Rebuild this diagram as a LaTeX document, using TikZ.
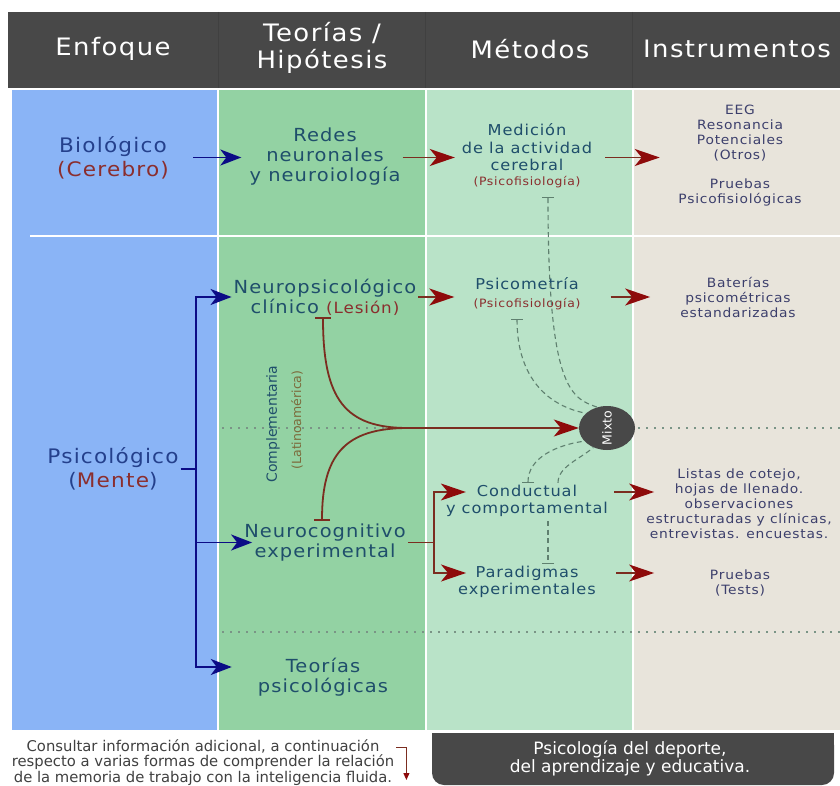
\documentclass[tikz,border=0pt]{standalone}
\usepackage{fontspec}
\setmainfont{DejaVu Sans}
\newfontfamily\widesans[FakeStretch=1.08,LetterSpace=6]{DejaVu Sans}
\usetikzlibrary{positioning}
\usetikzlibrary{arrows.meta}
\usetikzlibrary{calc}
\usetikzlibrary{shapes.geometric}

\definecolor{hdrgray}{HTML}{484848}
\definecolor{colA}{HTML}{8AB4F6}
\definecolor{colB}{HTML}{93D2A3}
\definecolor{colC}{HTML}{B9E3C8}
\definecolor{colD}{HTML}{E8E4DB}
\definecolor{bioblue}{HTML}{24408C}
\definecolor{txtblue}{HTML}{1F4E6B}
\definecolor{slate}{HTML}{3C3F6C}
\definecolor{redtxt}{HTML}{8A2E2E}
\definecolor{latbrown}{HTML}{7C6B3C}
\definecolor{navyarr}{HTML}{0C0C86}
\definecolor{redhead}{HTML}{8E0B0B}
\definecolor{redshaft}{HTML}{7B2D20}
\definecolor{dashgreen}{HTML}{5F806F}
\definecolor{dotgray}{HTML}{7A9486}

\tikzset{
  hdr/.style={text=white, align=center, font=\widesans\fontsize{24}{27}\selectfont},
  enfoque/.style={text=bioblue, align=center, inner sep=2pt, font=\widesans\fontsize{20}{24}\selectfont},
  teoria/.style={text=txtblue, align=center, inner sep=2pt, font=\widesans\fontsize{18}{20}\selectfont},
  metodo/.style={text=txtblue, align=center, inner sep=2pt, font=\widesans\fontsize{15}{17.5}\selectfont},
  subred/.style={text=redtxt, anchor=mid, inner sep=2pt, font=\widesans\fontsize{11.5}{13}\selectfont},
  instr/.style={text=slate, align=center, inner sep=2pt, font=\widesans\fontsize{12.8}{15}\selectfont},
  bline/.style={draw=navyarr, line width=1.8pt},
  barrow/.style={bline, -{Stealth[length=21pt,width=16pt,inset=6pt]}},
  rline/.style={draw=redshaft, line width=1.8pt},
  rarrow/.style={draw=redshaft, line width=1.6pt, -{Stealth[length=25pt,width=17pt,inset=7pt,color=redhead]}},
  mixline/.style={draw=dashgreen, line width=1.1pt, dash pattern=on 5pt off 3.5pt},
  dotline/.style={draw=dotgray, line width=1.5pt, dash pattern=on 1.5pt off 6.5pt},
  notearr/.style={draw=redshaft, line width=0.9pt, -{Triangle[length=7pt,width=6pt,color=redhead]}}
}

\begin{document}
\begin{tikzpicture}[x=1pt,y=-1pt]
  \useasboundingbox (0,0) rectangle (840,786);
  \fill[hdrgray] (8,12) rectangle (840,88);
  \foreach \x in {218,425,632}
    \draw[black!75, line width=1pt] (\x,12) -- (\x,88);
  \fill[colA] (12,90) rectangle (217,730);
  \fill[colB] (219,90) rectangle (425,730);
  \fill[colC] (427,90) rectangle (632,730);
  \fill[colD] (634,90) rectangle (840,730);
  \draw[white, line width=2pt] (30,236) -- (840,236);
  \draw[dotline] (222,428) -- (840,428);
  \draw[dotline] (222,632) -- (840,632);
  \fill[hdrgray, rounded corners=12pt] (432,733) rectangle (834,785);
  \fill[hdrgray] (432,733) rectangle (834,760);

  \node[hdr] (hEnf) at (113,49) {Enfoque};
  \node[hdr] (hTeo) at (322,48) {Teorías /\\Hipótesis};
  \node[hdr] (hMet) at (530,49) {Métodos};
  \node[hdr] (hIns) at (737,49) {Instrumentos};

  \node[enfoque] (bio) at (113,157.5) {Biológico\\\textcolor{redtxt}{(Cerebro)}};
  \node[teoria] (redes) at (325,157) {Redes\\neuronales\\y neuroiología};
  \node[metodo] (medic) at (527,147.5) {Medición\\de la actividad\\cerebral};
  \node[subred] (psfA) at (527,183) {(Psicofisiología)};
  \node[instr] (eeg) at (740,133.5) {EEG\\Resonancia\\Potenciales\\(Otros)};
  \node[instr] (pfis) at (740,192.5) {Pruebas\\Psicofisiológicas};

  \node[enfoque] (psico) at (113,469) {Psicológico\\(\textcolor{redtxt}{Mente})};
  \node[teoria] (neuro) at (325,297) {Neuropsicológico\\clínico {\fontsize{15.5}{20}\selectfont\textcolor{redtxt}{(Lesión)}}};
  \node[metodo, anchor=mid] (psicom) at (527,287) {Psicometría};
  \node[subred] (psfB) at (527,305) {(Psicofisiología)};
  \node[instr] (bater) at (738,297) {Baterías\\psicométricas\\estandarizadas};
  \node[teoria] (ncog) at (325,542.5) {Neurocognitivo\\experimental};
  \node[metodo] (cond) at (527,501) {Conductual\\y comportamental};
  \node[metodo] (parad) at (527,582) {Paradigmas\\experimentales};
  \node[instr] (listas) at (739,504) {Listas de cotejo,\\hojas de llenado.\\observaciones\\estructuradas y clínicas,\\entrevistas. encuestas.};
  \node[instr] (tests) at (740,582.5) {Pruebas\\(Tests)};
  \node[teoria] (teops) at (323,677.5) {Teorías\\psicológicas};

  \node[rotate=90, text=txtblue, font=\fontsize{14}{14}\selectfont] (compl) at (273,424) {Complementaria};
  \node[rotate=90, text=latbrown, font=\fontsize{12.5}{12.5}\selectfont] (latam) at (297,420) {(Latinoamérica)};
  \node[ellipse, fill=hdrgray, minimum width=56pt, minimum height=44pt, inner sep=0pt] (mix) at (607,428) {};
  \node[rotate=90, text=white, font=\fontsize{12.5}{12.5}\selectfont] (mixtxt) at (mix) {Mixto};

  \node[text=black!75, align=center, inner sep=2pt, font=\fontsize{14.8}{15.5}\selectfont] (nota) at (203,762.5)
    {Consultar información adicional, a continuación\\respecto a varias formas de comprender la relación\\de la memoria de trabajo con la inteligencia fluida.};
  \node[text=white, align=center, font=\fontsize{17}{18}\selectfont] (dep) at (630,758) {Psicología del deporte,\\del aprendizaje y educativa.};

  % biologico
  \draw[barrow, shorten <=22pt, shorten >=6pt] (bio.east) -- (bio.east -| redes.west);
  \draw[rarrow, shorten >=5pt] (bio.east -| redes.east) -- (bio.east -| medic.west);
  \draw[rarrow, shorten <=11pt, shorten >=35pt] (bio.east -| medic.east) -- (bio.east -| eeg.west);

  % psicologico
  \draw[bline] (psico.east) -- ++(15,0) coordinate (brk);
  \draw[barrow] (brk) |- (neuro.west);
  \draw[barrow, shorten >=-10pt] (brk) |- (ncog.west);
  \draw[barrow] (brk) |- ($(teops.west)+(-24,-10.5)$);
  \draw[rarrow, shorten >=17pt] (neuro.east) -- (neuro.east -| psfB.west);
  \draw[rarrow, shorten <=28pt, shorten >=28pt] (neuro.east -| psfB.east) -- (neuro.east -| bater.west);

  % complementaria
  \coordinate (jn) at (408,428);
  \draw[rline, {Bar[width=16pt]}-] ($(neuro.south)+(-2,0)$) .. controls +(0,82) and +(-63,0) .. (jn);
  \draw[rline, {Bar[width=16pt]}-] ($(ncog.north)+(-3,-1)$) .. controls +(0,-66) and +(-63,0) .. (jn);
  \draw[rarrow] (jn) -- (mix.west);

  % mixto
  \draw[mixline, {Bar[width=12pt]}-] ($(psfA.south)+(21,7)$) .. controls +(0,190) and +(-27,-9) .. (mix.115);
  \draw[mixline, {Bar[width=12pt]}-] ($(psfB.south)+(-10,6.5)$) .. controls +(0,60) and +(-37,-7) .. (mix.145);
  \draw[mixline, {Bar[width=12pt]}-] ($(cond.north)+(1,0)$) .. controls +(0,-25) and +(-28,4) .. (mix.210);
  \draw[mixline] ($(cond.north)+(31,0)$) .. controls +(0,-16) and +(-14,12) .. (mix.235);
  \draw[mixline, -{Bar[width=12pt]}] ($(cond.south)+(21,2)$) -- ($(parad.north)+(21,0)$);

  % conductual / paradigmas
  \draw[rline] (ncog.east) -- ++(26,0) coordinate (rj);
  \draw[rarrow] (rj) |- ($(cond.west)+(22,-9)$);
  \draw[rarrow] (rj) |- ($(parad.west)+(10,-9)$);
  \draw[rarrow] ($(cond.east)+(4,-9)$) -- ($(listas.west |- cond.east)+(10,-9)$);
  \draw[rarrow] ($(parad.east)+(18,-9)$) -- ($(listas.west |- parad.east)+(10,-9)$);

  \draw[notearr] ($(nota.east)+(0,-15.5)$) -- ++(10,0) -- ++(0,33);
\end{tikzpicture}
\end{document}
